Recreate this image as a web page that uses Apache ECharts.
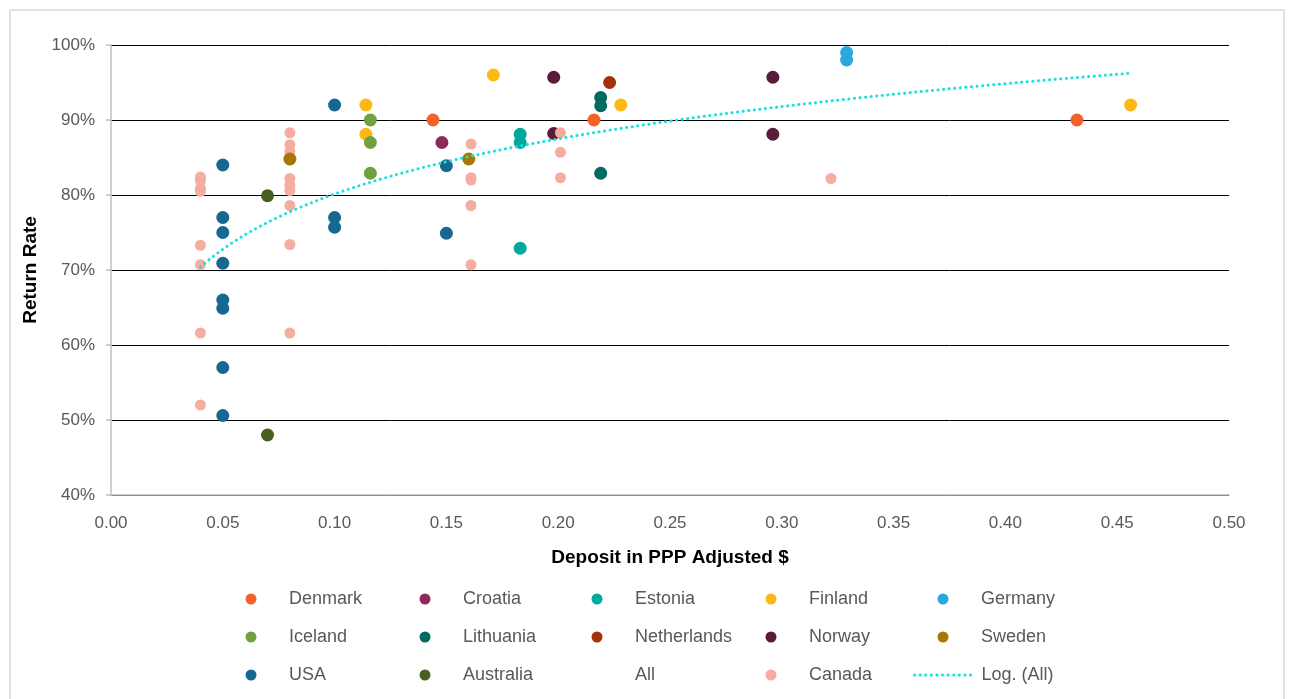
<!DOCTYPE html>
<html>
<head>
<meta charset="utf-8">
<script src="https://cdn.jsdelivr.net/npm/echarts@6/dist/echarts.min.js"></script>
<style>
  html, body { margin: 0; padding: 0; background: #ffffff; }
  #chart { width: 1289px; height: 699px; }
</style>
</head>
<body>
<div id="chart"></div>
<script>
// Return rate (%) against deposit in PPP-adjusted dollars, one array per country: [deposit, rate]
const denmark     = [[0.144, 90.0], [0.216, 90.0], [0.432, 90.0]];
const croatia     = [[0.148, 87.0]];
const estonia     = [[0.183, 88.1], [0.183, 87.0], [0.183, 72.9]];
const finland     = [[0.114, 92.0], [0.114, 88.1], [0.171, 96.0], [0.228, 92.0], [0.456, 92.0]];
const germany     = [[0.329, 99.0], [0.329, 98.0]];
const iceland     = [[0.116, 90.0], [0.116, 87.0], [0.116, 82.9]];
const lithuania   = [[0.219, 93.0], [0.219, 91.9], [0.219, 82.9]];
const netherlands = [[0.223, 95.0]];
const norway      = [[0.198, 95.7], [0.198, 88.2], [0.296, 95.7], [0.296, 88.1]];
const sweden      = [[0.080, 84.8], [0.160, 84.8]];
const usa         = [[0.05, 84.0], [0.05, 77.0], [0.05, 75.0], [0.05, 70.9], [0.05, 66.0], [0.05, 64.9],
                     [0.05, 57.0], [0.05, 50.6], [0.10, 92.0], [0.10, 77.0], [0.10, 75.7],
                     [0.15, 83.9], [0.15, 74.9]];
const australia   = [[0.07, 79.9], [0.07, 48.0]];
const canada      = [[0.04, 82.4], [0.04, 81.9], [0.04, 80.9], [0.04, 80.5], [0.04, 73.3], [0.04, 70.7],
                     [0.04, 61.6], [0.04, 52.0],
                     [0.08, 88.3], [0.08, 86.7], [0.08, 85.8], [0.08, 82.2], [0.08, 81.3], [0.08, 80.6],
                     [0.08, 78.6], [0.08, 73.4], [0.08, 61.6],
                     [0.161, 86.8], [0.161, 82.3], [0.161, 82.0], [0.161, 78.6], [0.161, 70.7],
                     [0.201, 88.3], [0.201, 85.7], [0.201, 82.3],
                     [0.322, 82.2]];

const xTicks = { min: 0, max: 0.5, step: 0.05 };
const yTicks = { min: 40, max: 100, step: 10 };

// "All" pools every country's points; the logarithmic trend is fitted to it
const allPoints = [].concat(denmark, croatia, estonia, finland, germany, iceland, lithuania,
                            netherlands, norway, sweden, usa, australia, canada);

function logFit(points) {
  const n = points.length;
  let sx = 0, sy = 0, sxx = 0, sxy = 0;
  points.forEach(([x, y]) => {
    const lx = Math.log(x);
    sx += lx; sy += y; sxx += lx * lx; sxy += lx * y;
  });
  const b = (n * sxy - sx * sy) / (n * sxx - sx * sx);
  const a = (sy - b * sx) / n;
  return { a, b };
}
const fit = logFit(allPoints);
const xs = allPoints.map(p => p[0]);
const xLo = Math.min(...xs), xHi = Math.max(...xs);
const trend = [];
for (let i = 0; i <= 120; i++) {
  const x = xLo + (xHi - xLo) * i / 120;
  trend.push([x, fit.a + fit.b * Math.log(x)]);
}

const colors = {
  Denmark: '#F4612A', Croatia: '#8E2A5A', Estonia: '#00A99D', Finland: '#FDB913',
  Germany: '#29A8E0', Iceland: '#6FA23E', Lithuania: '#006B5E', Netherlands: '#A33209',
  Norway: '#5A1A3A', Sweden: '#A67800', USA: '#176891', Australia: '#4A5E23',
  Canada: '#F6ADA0', Trend: '#16E0E0'
};

function dots(name, data, size) {
  return {
    name, type: 'scatter', data, symbol: 'circle', symbolSize: size || 13,
    itemStyle: { color: colors[name], opacity: 1 },
    emphasis: { disabled: true }
  };
}

// round dots along the trend curve
const trendLine = { color: colors.Trend, width: 3, type: [0.1, 5.5], cap: 'round' };

// drawing order: Canada sits above Norway but below Sweden and USA
const series = [
  dots('Denmark', denmark), dots('Croatia', croatia), dots('Estonia', estonia),
  dots('Finland', finland), dots('Germany', germany), dots('Iceland', iceland),
  dots('Lithuania', lithuania), dots('Netherlands', netherlands), dots('Norway', norway),
  { name: 'All', type: 'scatter', data: allPoints, symbolSize: 0, silent: true,
    itemStyle: { color: 'rgba(0,0,0,0)' } },
  dots('Canada', canada, 11),
  dots('Sweden', sweden), dots('USA', usa), dots('Australia', australia),
  { name: 'Log. (All)', type: 'line', data: trend, showSymbol: false, symbol: 'none', smooth: false,
    silent: true, z: 5, lineStyle: trendLine,
    itemStyle: { color: colors.Trend } }
];

// legend: 5 columns x 3 rows
const legendRows = [
  ['Denmark', 'Croatia', 'Estonia', 'Finland', 'Germany'],
  ['Iceland', 'Lithuania', 'Netherlands', 'Norway', 'Sweden'],
  ['USA', 'Australia', 'All', 'Canada', 'Log. (All)']
];
const colCenters = [251, 425, 597, 771, 943];
const rowCenters = [599, 637, 675];
const legendFont = { fontFamily: 'Liberation Sans, Arial, sans-serif', fontSize: 18, color: '#595959', lineHeight: 22 };

const legends = [];
legendRows.forEach((row, r) => {
  row.forEach((name, c) => {
    const isTrend = name === 'Log. (All)';
    const item = { name };
    if (name === 'All') item.itemStyle = { opacity: 0 };
    if (!isTrend) item.icon = 'circle';
    const lg = {
      data: [item],
      left: isTrend ? colCenters[c] - 30 : colCenters[c] - 5.5,
      top: rowCenters[r] - 11,
      padding: 0,
      itemWidth: isTrend ? 57 : 11,
      itemHeight: 11,
      selectedMode: false,
      textStyle: Object.assign({}, legendFont, { padding: [0, 0, 0, isTrend ? 5 : 27.5] })
    };
    if (isTrend) {
      lg.itemStyle = { opacity: 0, borderWidth: 0 };
      lg.lineStyle = Object.assign({}, trendLine, { opacity: 1 });
    }
    legends.push(lg);
  });
});

const axisFont = { fontFamily: 'Liberation Sans, Arial, sans-serif', fontSize: 17, color: '#595959' };
const nameFont = { fontFamily: 'Liberation Sans, Arial, sans-serif', fontSize: 19, fontWeight: 'bold', color: '#000000' };

const option = {
  animation: false,
  backgroundColor: '#ffffff',
  graphic: [{
    type: 'rect', shape: { x: 10, y: 10, width: 1274, height: 700 },
    style: { fill: 'none', stroke: '#d9d9d9', lineWidth: 1.5 }, silent: true, z: -1
  }],
  grid: { left: 111, right: 60, top: 45, bottom: 204, containLabel: false },
  xAxis: {
    type: 'value', min: xTicks.min, max: xTicks.max, interval: xTicks.step,
    name: 'Deposit in PPP Adjusted $', nameLocation: 'middle', nameGap: 53,
    nameTextStyle: nameFont,
    axisLine: { show: true, onZero: false, lineStyle: { color: '#bfbfbf', width: 1.5 } },
    axisTick: { show: false },
    splitLine: { show: false },
    axisLabel: Object.assign({}, axisFont, { margin: 20, formatter: v => v.toFixed(2) })
  },
  yAxis: {
    type: 'value', min: yTicks.min, max: yTicks.max, interval: yTicks.step,
    name: 'Return Rate', nameLocation: 'middle', nameGap: 70, nameRotate: 90,
    nameTextStyle: nameFont,
    axisLine: { show: true, lineStyle: { color: '#bfbfbf', width: 1.5 } },
    axisTick: { show: true, length: 5, lineStyle: { color: '#bfbfbf', width: 1.5 } },
    splitLine: { show: true, lineStyle: { color: '#000000', width: 1 } },
    axisLabel: Object.assign({}, axisFont, { margin: 16, formatter: v => v + '%' })
  },
  legend: legends,
  series
};

const chart = echarts.init(document.getElementById('chart'), null, { renderer: 'canvas' });
chart.setOption(option);
</script>
</body>
</html>
